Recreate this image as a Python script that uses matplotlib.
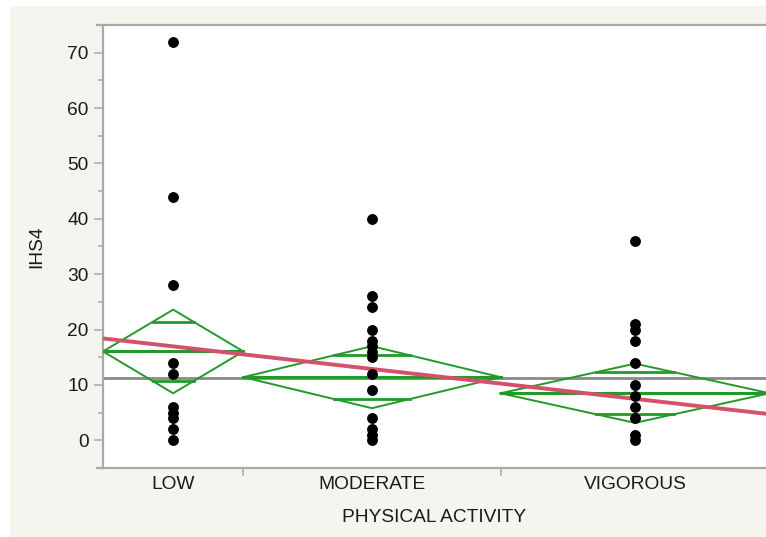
import matplotlib
matplotlib.use("Agg")
import matplotlib.pyplot as plt
import numpy as np
from matplotlib.lines import Line2D
from matplotlib.patches import Rectangle

# groups and sample sizes (x widths are proportional to n, like JMP)
groups = ["LOW", "MODERATE", "VIGOROUS"]
counts = [12, 22, 23]

# visible IHS4 points per group
low_vals = [72, 44, 28, 14, 12, 6, 5, 4, 2, 0]
moderate_vals = [40, 26, 24, 20, 18, 17, 16, 15, 12, 9, 4, 2, 1, 0]
vigorous_vals = [36, 21, 20, 18, 14, 10, 8, 6, 4, 1, 0]

# means diamonds: group mean and 95% CI half width
group_means = [16.05, 11.4, 8.5]
ci_half = [7.55, 5.6, 5.35]

# fitted trend value at each group centre
trend_at_group = [16.98, 12.85, 7.5]

plt.rcParams['font.family'] = ['Liberation Sans', 'DejaVu Sans']

GREEN = '#23992a'
RED = '#d5506a'
GREY = '#8a8a8a'
SPINE = '#a9a9a9'
TXT = '#1a1a1a'
FS = 13.8

fig = plt.figure(figsize=(7.66, 5.37), dpi=100, facecolor='white')
fig.patches.append(Rectangle((10 / 766, 0), 1, 1 - 6 / 537, transform=fig.transFigure,
                             facecolor='#f5f5f0', edgecolor='none', zorder=-10))
ax = fig.add_axes([103 / 766, 1 - 468 / 537, 663 / 766, 443 / 537])
ax.set_facecolor('white')

edges = np.concatenate([[0], np.cumsum(counts)])
centers = (edges[:-1] + edges[1:]) / 2
values = [low_vals, moderate_vals, vigorous_vals]

# grand mean line
grand_mean = np.average(group_means, weights=counts)
ax.axhline(grand_mean, color=GREY, lw=2.0, zorder=2)

# means diamonds with overlap marks
for i in range(len(groups)):
    e0, e1, c = edges[i], edges[i + 1], centers[i]
    m, h = group_means[i], ci_half[i]
    ax.plot([e0, c, e1, c, e0], [m, m + h, m, m - h, m], color=GREEN, lw=1.4, zorder=3)
    ax.plot([e0, e1], [m, m], color=GREEN, lw=2.2, zorder=3)
    dy = h / np.sqrt(2)
    hw = (1 - 1 / np.sqrt(2)) * (e1 - e0) / 2
    for s in (1, -1):
        ax.plot([c - hw, c + hw], [m + s * dy, m + s * dy], color=GREEN, lw=2.0, zorder=3)

# trend line
slope, icpt = np.polyfit(centers, trend_at_group, 1)
xs = np.array([0, edges[-1]])
ax.plot(xs, icpt + slope * xs, color=RED, lw=2.8, zorder=4, solid_capstyle='butt')

# points
for c, v in zip(centers, values):
    ax.plot(np.full(len(v), c), v, 'o', color='black', ms=6.8, zorder=5)

ax.set_xlim(0, 56.7)
ax.set_ylim(-5, 75)

ax.set_yticks(np.arange(0, 71, 10))
ax.set_yticks(np.arange(5, 71, 10), minor=True)
ax.set_xticks(edges[1:-1])
ax.set_xticklabels([])
ax.set_xticks(centers, minor=True)
ax.set_xticklabels(groups, minor=True)

ax.tick_params(axis='y', which='major', length=6.5, width=1.1, color=SPINE,
               labelsize=FS, labelcolor=TXT, pad=4)
ax.tick_params(axis='y', which='minor', length=3.6, width=1.1, color=SPINE)
ax.tick_params(axis='x', which='major', length=6, width=1.1, color=SPINE)
ax.tick_params(axis='x', which='minor', length=0, labelsize=FS,
               labelcolor=TXT, pad=6)

ax.spines['right'].set_visible(False)
for side in ('left', 'top', 'bottom'):
    ax.spines[side].set_color(SPINE)
    ax.spines[side].set_linewidth(1.6)

# small overhang of top and bottom frame lines to the left of the y axis
for yy in (0, 1):
    ax.add_line(Line2D([-0.009, 0], [yy, yy], transform=ax.transAxes, color=SPINE,
                       lw=1.6, clip_on=False))

ax.set_ylabel('IHS4', fontsize=FS, color=TXT, labelpad=16)
ax.set_xlabel('PHYSICAL ACTIVITY', fontsize=FS, color=TXT, labelpad=11)

fig.savefig('out.png', dpi=100, facecolor=fig.get_facecolor())
